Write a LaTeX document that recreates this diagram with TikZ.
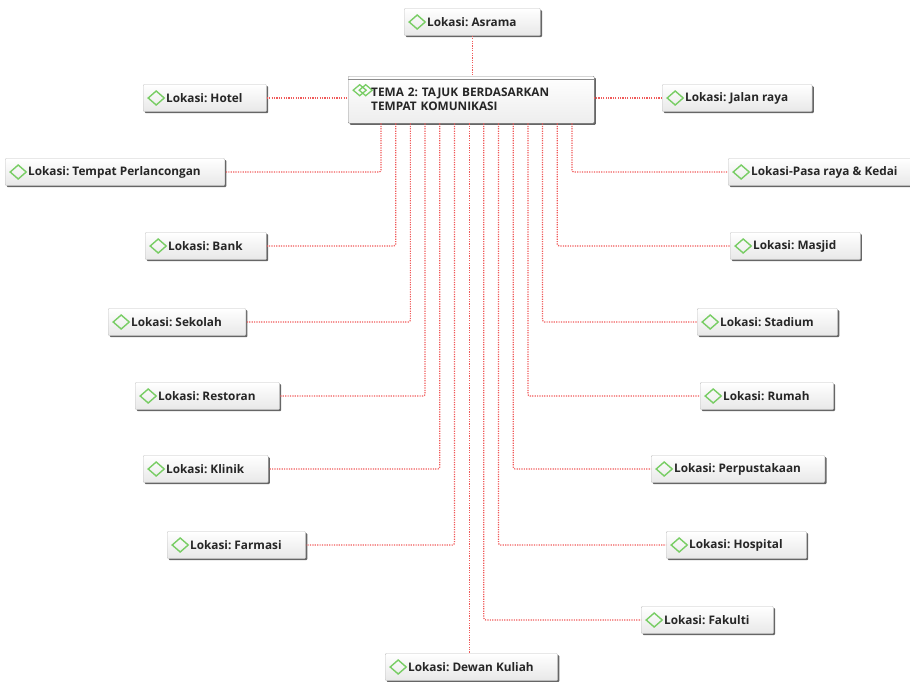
\documentclass[tikz,border=0pt]{standalone}
\usepackage{fontspec}
\setmainfont{Open Sans}
\usetikzlibrary{positioning,calc,shadows}

\definecolor{linkred}{RGB}{240,90,90}
\definecolor{diagreen}{RGB}{120,205,100}

\tikzset{
  loc/.style={draw=black!25, rounded corners=1pt, top color=white, bottom color=black!9,
    drop shadow={shadow xshift=1.6pt, shadow yshift=-1.6pt, fill=black!60, opacity=1},
    minimum height=27pt, inner xsep=4pt, anchor=west,
    font=\bfseries\fontsize{11.8}{13}\selectfont, text=black!85,
    execute at begin node=\hspace*{19pt}, execute at end node=\hspace*{20pt},
    path picture={\draw[diagreen, line width=1.4pt, sharp corners]
      ([xshift=5pt]path picture bounding box.west) -- ++(8,-7) -- ++(8,7) -- ++(-8,7) -- cycle;}},
  tema/.style={draw=black!45, rounded corners=1pt, top color=white, bottom color=black!7,
    drop shadow={shadow xshift=1.6pt, shadow yshift=-1.6pt, fill=black!60, opacity=1},
    minimum height=47pt, inner xsep=4pt, anchor=north west, align=left,
    font=\bfseries\fontsize{11.8}{14}\selectfont, text=black!85,
    execute at begin node=\hspace*{19pt},
    path picture={\draw[diagreen, line width=1.3pt, sharp corners]
      ([xshift=5pt,yshift=-14pt]path picture bounding box.north west) -- ++(6.5,-5.5) -- ++(6.5,5.5) -- ++(-6.5,5.5) -- cycle
      ([xshift=11pt,yshift=-14pt]path picture bounding box.north west) -- ++(6.5,-5.5) -- ++(6.5,5.5) -- ++(-6.5,5.5) -- cycle;}},
  link/.style={linkred, line width=1.2pt, dash pattern=on 1.2pt off 1.2pt, rounded corners=2pt}
}

\begin{document}
\frenchspacing
\begin{tikzpicture}[x=1pt,y=-1pt]
\useasboundingbox (0,0) rectangle (910,681);

% centre theme
\node[tema, text width=238pt] (tema) at (348,76) {TEMA 2: TAJUK BERDASARKAN\\\hspace*{19pt}TEMPAT KOMUNIKASI};
\draw[black!45] ([yshift=-3.5pt]tema.north west) -- ([yshift=-3.5pt]tema.north east);

% locations
\node[loc] (asrama) at (404,22) {Lokasi: Asrama};
\node[loc] (hotel) at (143,98) {Lokasi: Hotel};
\node[loc] (jalan) at (662,98) {Lokasi: Jalan raya};
\node[loc] (tempat) at (5,172) {Lokasi: Tempat Perlancongan};
\node[loc] (pasaraya) at (728,172) {Lokasi-Pasa raya \& Kedai};
\node[loc] (bank) at (145,246) {Lokasi: Bank};
\node[loc] (masjid) at (730,246) {Lokasi: Masjid};
\node[loc] (sekolah) at (108,322) {Lokasi: Sekolah};
\node[loc] (stadium) at (697,322) {Lokasi: Stadium};
\node[loc] (restoran) at (135,396) {Lokasi: Restoran};
\node[loc] (rumah) at (700,396) {Lokasi: Rumah};
\node[loc] (klinik) at (143,469) {Lokasi: Klinik};
\node[loc] (perpus) at (651,469) {Lokasi: Perpustakaan};
\node[loc] (farmasi) at (167,545) {Lokasi: Farmasi};
\node[loc] (hospital) at (666,545) {Lokasi: Hospital};
\node[loc] (fakulti) at (641,620) {Lokasi: Fakulti};
\node[loc] (dewan) at (385,667) {Lokasi: Dewan Kuliah};

% drop points under the theme box
\foreach \k in {1,...,14}
  \path (tema.south west) ++({33+14.69*(\k-1)},0) coordinate (d\k);

% links
\draw[link] (asrama.south) -- (asrama.south |- tema.north);
\draw[link] (hotel.east) -- (hotel.east -| tema.west);
\draw[link] (jalan.west) -- (jalan.west -| tema.east);
\draw[link] (d1) |- (tempat.east);
\draw[link] (d2) |- (bank.east);
\draw[link] (d3) |- (sekolah.east);
\draw[link] (d4) |- (restoran.east);
\draw[link] (d5) |- (klinik.east);
\draw[link] (d6) |- (farmasi.east);
\draw[link] (d7) -- (d7 |- dewan.north);
\draw[link] (d8) |- (fakulti.west);
\draw[link] (d9) |- (hospital.west);
\draw[link] (d10) |- (perpus.west);
\draw[link] (d11) |- (rumah.west);
\draw[link] (d12) |- (stadium.west);
\draw[link] (d13) |- (masjid.west);
\draw[link] (d14) |- (pasaraya.west);
\end{tikzpicture}
\end{document}
